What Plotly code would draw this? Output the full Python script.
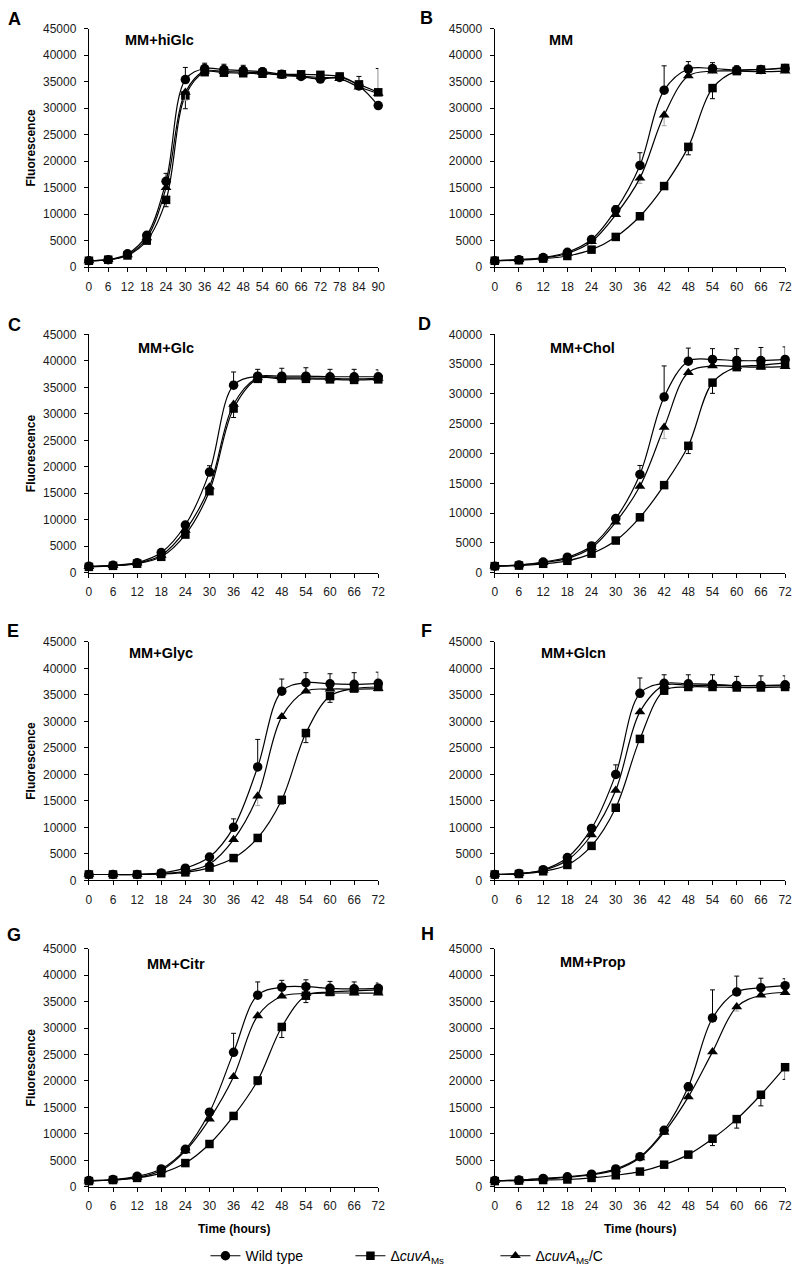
import plotly.graph_objects as go

# ---------------- data ----------------
hours = [0, 6, 12, 18, 24, 30, 36, 42, 48, 54, 60, 66, 72]
hours_A = [0, 6, 12, 18, 24, 30, 36, 42, 48, 54, 60, 66, 72, 78, 84, 90]

panel_letters = ["A", "B", "C", "D", "E", "F", "G", "H"]
panel_titles = ["MM+hiGlc", "MM", "MM+Glc", "MM+Chol", "MM+Glyc", "MM+Glcn", "MM+Citr", "MM+Prop"]
series_names = ["Wild type", "Δ<i>cuvA</i><sub>Ms</sub>", "Δ<i>cuvA</i><sub>Ms</sub>/C"]
y_ticks_45 = [0, 5000, 10000, 15000, 20000, 25000, 30000, 35000, 40000, 45000]
y_ticks_40 = [0, 5000, 10000, 15000, 20000, 25000, 30000, 35000, 40000]

# A: MM+hiGlc
wt_A = [1200, 1400, 2500, 6000, 16200, 35400, 37500, 37300, 37100, 36900, 36400, 36000, 35500, 35800, 34200, 30500]
ko_A = [1200, 1400, 2200, 5000, 12700, 32400, 36800, 36700, 36600, 36500, 36400, 36400, 36300, 36000, 34500, 33000]
co_A = [1200, 1400, 2300, 5500, 15000, 33000, 37000, 36900, 36800, 36700, 36200, 36000, 35800, 35600, 34000, 32800]
# error bars: positive value = upward bar, negative value = downward bar
err_wt_A = [0, 0, 0, 0, 1500, 2300, 1000, 1000, 1000, 700, 0, 0, 0, 0, 1800, 0]
err_ko_A = [0, 0, 0, 0, -1300, -2500, 0, 0, 0, 0, 0, 0, 0, 0, 0, 4500]
err_co_A = [0, 0, 0, 0, 0, -1500, 0, 0, 0, 0, 0, 0, 0, 0, 0, 0]

# B: MM
wt_B = [1200, 1400, 1800, 2800, 5200, 10800, 19200, 33400, 37400, 37500, 37200, 37300, 37500]
ko_B = [1200, 1300, 1600, 2100, 3300, 5700, 9600, 15300, 22700, 33800, 37000, 37300, 37600]
co_B = [1200, 1400, 1700, 2600, 4800, 9900, 16800, 28700, 36100, 37000, 37000, 36900, 37000]
err_wt_B = [0, 0, 0, 0, 0, 800, 2400, 4600, 1400, 1100, 800, 0, 0]
err_ko_B = [0, 0, 0, 0, 0, 0, 0, 0, -1500, -2000, 0, 0, 0]
err_co_B = [0, 0, 0, 0, 0, 0, -1000, -2000, 0, 0, 0, 0, 0]

# C: MM+Glc
wt_C = [1200, 1400, 1900, 3800, 9000, 19000, 35400, 37100, 37100, 37100, 37000, 37000, 37000]
ko_C = [1100, 1300, 1700, 3000, 7200, 15400, 31000, 36600, 36600, 36600, 36500, 36400, 36500]
co_C = [1150, 1350, 1800, 3300, 8000, 16200, 31800, 36800, 36800, 36800, 36700, 36600, 36700]
err_wt_C = [0, 0, 0, 0, 0, 1200, 2500, 1300, 1500, 1600, 1400, 1400, 1300]
err_ko_C = [0, 0, 0, 0, 0, 0, -1700, 0, 0, 0, 0, 0, 0]
err_co_C = [0, 0, 0, 0, 0, 0, 0, 0, 0, 0, 0, 0, 0]

# D: MM+Chol
wt_D = [1100, 1300, 1800, 2600, 4500, 9100, 16500, 29500, 35500, 35800, 35600, 35600, 35800]
ko_D = [1100, 1200, 1500, 2000, 3200, 5400, 9300, 14700, 21300, 31900, 34500, 34800, 35200]
co_D = [1100, 1300, 1700, 2400, 4200, 8500, 14500, 24400, 33600, 34700, 34600, 34500, 34600]
err_wt_D = [0, 0, 0, 0, 0, 0, 1500, 5200, 2200, 1800, 2000, 2200, 2100]
err_ko_D = [0, 0, 0, 0, 0, 0, 0, 0, -1300, -1800, 0, 0, 0]
err_co_D = [0, 0, 0, 0, 0, 0, 0, -1900, 0, 0, 0, 0, 0]

# E: MM+Glyc
wt_E = [1100, 1100, 1100, 1400, 2300, 4400, 10000, 21400, 35700, 37300, 37100, 37000, 37200]
ko_E = [1100, 1100, 1100, 1200, 1500, 2400, 4200, 8000, 15200, 27800, 34800, 36200, 36500]
co_E = [1100, 1100, 1100, 1300, 1700, 3100, 7700, 15900, 30900, 35700, 36100, 36100, 36200]
err_wt_E = [0, 0, 0, 0, 0, 0, 1600, 5200, 2300, 1900, 1900, 2200, 2100]
err_ko_E = [0, 0, 0, 0, 0, 0, 0, 0, -800, -1800, -1200, 0, 0]
err_co_E = [0, 0, 0, 0, 0, 0, 0, -1800, 0, 0, 0, 0, 0]

# F: MM+Glcn
wt_F = [1100, 1300, 2000, 4300, 9800, 20000, 35300, 37200, 37100, 37000, 36800, 36800, 36900]
ko_F = [1100, 1200, 1700, 2900, 6500, 13700, 26700, 35800, 36500, 36500, 36400, 36400, 36500]
co_F = [1100, 1250, 1900, 3800, 8600, 17000, 31800, 36800, 36800, 36800, 36700, 36700, 36700]
err_wt_F = [0, 0, 0, 0, 0, 1800, 2900, 1600, 1700, 1800, 1700, 1800, 1700]
err_ko_F = [0, 0, 0, 0, 0, 0, 0, 0, 0, 0, 0, 0, 0]
err_co_F = [0, 0, 0, 0, 0, 0, 0, 0, 0, 0, 0, 0, 0]

# G: MM+Citr
wt_G = [1200, 1400, 2000, 3400, 7100, 14100, 25400, 36200, 37700, 37800, 37500, 37400, 37500]
ko_G = [1100, 1300, 1700, 2600, 4500, 8100, 13400, 20100, 30200, 36100, 36800, 37000, 37200]
co_G = [1100, 1300, 1800, 3100, 6800, 12800, 20800, 32300, 36000, 36500, 36600, 36600, 36600]
err_wt_G = [0, 0, 0, 0, 0, 0, 3600, 2500, 1300, 1300, 1300, 1300, 1000]
err_ko_G = [0, 0, 0, 0, 0, 0, 0, -800, -2000, -1300, 0, 0, 0]
err_co_G = [0, 0, 0, 0, 0, 0, 0, 0, 0, 0, 0, 0, 0]

# H: MM+Prop
wt_H = [1200, 1300, 1600, 1900, 2400, 3400, 5700, 10700, 18900, 31900, 36800, 37600, 38000]
ko_H = [1100, 1200, 1300, 1400, 1700, 2200, 2900, 4200, 6100, 9100, 12800, 17400, 22600]
co_H = [1200, 1300, 1500, 1800, 2300, 3200, 5500, 10300, 17000, 25500, 34000, 36200, 36700]
err_wt_H = [0, 0, 0, 0, 0, 0, 0, 600, 700, 5300, 3000, 1800, 1300]
err_ko_H = [0, 0, 0, 0, 0, 0, 0, 0, -600, -1300, -1700, -2100, -2300]
err_co_H = [0, 0, 0, 0, 0, 0, 0, 0, 0, 0, -800, 0, 0]

panels = [
    (hours_A, wt_A, ko_A, co_A, err_wt_A, err_ko_A, err_co_A),
    (hours, wt_B, ko_B, co_B, err_wt_B, err_ko_B, err_co_B),
    (hours, wt_C, ko_C, co_C, err_wt_C, err_ko_C, err_co_C),
    (hours, wt_D, ko_D, co_D, err_wt_D, err_ko_D, err_co_D),
    (hours, wt_E, ko_E, co_E, err_wt_E, err_ko_E, err_co_E),
    (hours, wt_F, ko_F, co_F, err_wt_F, err_ko_F, err_co_F),
    (hours, wt_G, ko_G, co_G, err_wt_G, err_ko_G, err_co_G),
    (hours, wt_H, ko_H, co_H, err_wt_H, err_ko_H, err_co_H),
]
y_max = [45000, 45000, 45000, 40000, 45000, 45000, 45000, 45000]

# ---------------- layout geometry (pixels) ----------------
W, H = 800, 1276
col_px = [(87, 380), (498, 792)]
row_px = [(22, 263), (331, 572), (642, 883), (952, 1193)]
letter_pos = [(3, 12), (420, 11), (3, 322), (418, 321), (2, 631), (421, 631), (2, 938), (421, 937)]
title_pos = [(158, 33), (565, 33), (165, 345), (587, 345), (160, 653), (578, 653), (175, 968), (597, 966)]

FONT = "Arial, 'Liberation Sans', sans-serif"
NARROW = "'Liberation Sans Narrow', 'Arial Narrow', Arial, 'Liberation Sans', sans-serif"

symbols = ["circle", "square", "triangle-up"]
msizes = [9.5, 8.5, 9.5]
err_colors = ["black", "black", "#a8a8a8"]

fig = go.Figure()

for i, (x, wt, ko, co, ewt, eko, eco) in enumerate(panels):
    ax = "" if i == 0 else str(i + 1)
    for s, (yv, ev) in enumerate([(wt, ewt), (ko, eko), (co, eco)]):
        plus = [e if e > 0 else 0 for e in ev]
        minus = [-e if e < 0 else 0 for e in ev]
        fig.add_trace(go.Scatter(
            x=x, y=yv, mode="lines+markers",
            xaxis="x" + ax, yaxis="y" + ax,
            name=series_names[s], legendgroup=str(s), showlegend=(i == 0),
            line=dict(color="black", width=1.2, shape="spline", smoothing=1.0),
            marker=dict(symbol=symbols[s], size=msizes[s], color="black"),
            error_y=dict(type="data", array=plus, arrayminus=minus, symmetric=False,
                         color=err_colors[s], thickness=1, width=2.5),
            cliponaxis=False,
        ))

annotations = []
for i in range(8):
    c, r = i % 2, i // 2
    x0, x1 = col_px[c]
    y0, y1 = row_px[r]
    ax = "" if i == 0 else str(i + 1)
    xr = 90 if i == 0 else 72
    fig.update_layout(**{
        "xaxis" + ax: dict(
            domain=[x0 / W, x1 / W], range=[0, xr], anchor="y" + ax,
            tickmode="array", tickvals=(hours_A if i == 0 else hours),
            showline=True, linecolor="black", linewidth=1.3,
            ticks="outside", ticklen=4, tickwidth=1, tickcolor="black",
            showgrid=False, zeroline=False,
            tickfont=dict(family=FONT, size=12, color="#1a1a1a"),
            ticklabelstandoff=4, ticklabeloverflow="allow",
        ),
        "yaxis" + ax: dict(
            domain=[1 - y1 / H, 1 - y0 / H], range=[0, y_max[i]], anchor="x" + ax,
            tickmode="array", tickvals=(y_ticks_40 if y_max[i] == 40000 else y_ticks_45),
            tickformat="d",
            showline=True, linecolor="black", linewidth=1.3,
            ticks="outside", ticklen=4, tickwidth=1, tickcolor="black",
            showgrid=False, zeroline=False,
            tickfont=dict(family=FONT, size=12, color="#1a1a1a"),
            ticklabelstandoff=5, ticklabeloverflow="allow",
        ),
    })
    # panel letter
    lx, ly = letter_pos[i]
    annotations.append(dict(text="<b>" + panel_letters[i] + "</b>", x=lx / W, y=1 - ly / H,
                            xref="paper", yref="paper", xanchor="left", yanchor="middle",
                            showarrow=False, font=dict(family=FONT, size=18, color="black")))
    # panel title
    tx, ty = title_pos[i]
    annotations.append(dict(text="<b>" + panel_titles[i] + "</b>", x=tx / W, y=1 - ty / H,
                            xref="paper", yref="paper", xanchor="center", yanchor="middle",
                            showarrow=False, font=dict(family=FONT, size=14.5, color="black")))
    # y title on left panels
    if c == 0:
        annotations.append(dict(text="<b>Fluorescence</b>", x=28 / W, y=1 - ((y0 + y1) / 2) / H,
                                xref="paper", yref="paper", xanchor="center", yanchor="middle",
                                textangle=-90, showarrow=False,
                                font=dict(family=FONT, size=12, color="black")))
    # x title on bottom panels
    if r == 3:
        annotations.append(dict(text="<b>Time (hours)</b>", x=((x0 + x1) / 2) / W, y=1 - 1236 / H,
                                xref="paper", yref="paper", xanchor="center", yanchor="middle",
                                showarrow=False, font=dict(family=NARROW, size=12, color="black")))

fig.update_layout(
    width=W, height=H, autosize=False,
    margin=dict(l=0, r=0, t=0, b=0),
    paper_bgcolor="white", plot_bgcolor="white",
    annotations=annotations,
    showlegend=True,
    legend=dict(orientation="h", x=205 / W, y=1 - 1263 / H, xanchor="left", yanchor="middle",
                font=dict(family=NARROW, size=14, color="black"),
                entrywidth=100, entrywidthmode="pixels",
                bgcolor="rgba(0,0,0,0)", itemwidth=30),
)

fig.write_html(
    "out.html",
    config={"displayModeBar": False},
    post_script="document.body.style.margin='0px';document.body.style.overflow='hidden';",
)
